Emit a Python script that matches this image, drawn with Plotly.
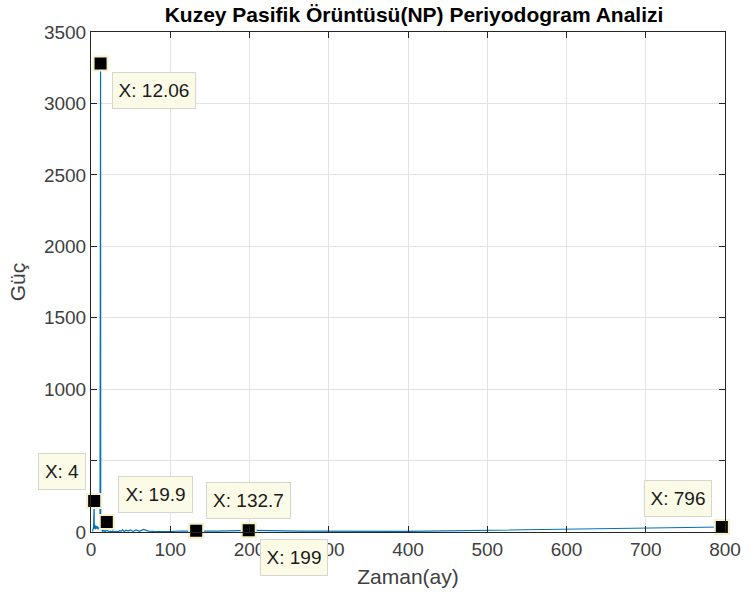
import plotly.graph_objects as go

# Periodogram of the North Pacific (NP) index: period (months) vs power
periods = [796, 398, 265.3, 199, 159.2, 132.7, 113.7, 99.5, 88.4, 79.6,
           72.4, 66.3, 61.2, 56.9, 53.1, 49.8, 46.8, 44.2, 41.9, 39.8,
           37.9, 36.2, 34.6, 33.2, 31.8, 30.6, 29.5, 28.4, 27.4, 26.5,
           25.7, 24.9, 24.1, 23.4, 22.7, 22.1, 21.5, 20.9, 20.4, 19.9,
           19.4, 18.5, 17.7, 16.6, 15.9, 14.5, 13.3, 12.63, 12.44, 12.25,
           12.06, 11.88, 11.71, 11.37, 10.6, 9.95, 8.84, 7.96, 7.24, 6.63,
           6.12, 5.69, 5.31, 4.98, 4.68, 4.42, 4.19, 4.06, 4.04, 4.02,
           4.0, 3.98, 3.96, 3.79, 3.46, 3.18, 2.95, 2.65, 2.41, 2.21, 2.0]
power = [35, 4, 6, 12, 6, 8, 7, 3, 2, 4,
         6, 18, 5, 14, 4, 15, 6, 12, 3, 16,
         5, 9, 3, 6, 4, 2, 5, 3, 7, 2,
         4, 3, 6, 2, 5, 3, 8, 8, 20, 70,
         12, 5, 9, 4, 14, 6, 18, 25, 40, 90,
         3280, 60, 30, 15, 22, 35, 18, 40, 25, 30,
         45, 20, 35, 28, 50, 30, 40, 25, 60, 35,
         217, 40, 30, 25, 35, 20, 30, 15, 25, 10, 5]

# Data tips (period, power) with their labels
tip_x = [12.06, 4, 19.9, 132.7, 199, 796]
tip_y = [3280, 217, 70, 8, 12, 35]
tip_text = ["X: 12.06", "X: 4", "X: 19.9", "X: 132.7", "X: 199", "X: 796"]
tip_xanchor = ["left", "right", "left", "left", "left", "right"]
tip_yanchor = ["top", "bottom", "bottom", "bottom", "top", "bottom"]
tip_xshift = [11, -8, 11, 10, 11, -10]
tip_yshift = [-9, 11, 9, 12, -9, 10]
tip_width = [82, 46, 73, 83, 66, 66]

x_ticks = [0, 100, 200, 300, 400, 500, 600, 700, 800]
y_ticks = [0, 500, 1000, 1500, 2000, 2500, 3000, 3500]

FONT = "Liberation Sans, Arial"

fig = go.Figure()
fig.add_trace(go.Scatter(x=periods, y=power, mode="lines",
                         line=dict(color="#0072BD", width=1.2),
                         hoverinfo="skip", showlegend=False))
fig.add_trace(go.Scatter(x=tip_x, y=tip_y, mode="markers",
                         marker=dict(symbol="square", size=14, color="black",
                                     line=dict(color="#F5F0C8", width=2)),
                         showlegend=False, cliponaxis=False))

for x, y, t, xa, ya, xs, ys, w in zip(tip_x, tip_y, tip_text, tip_xanchor,
                                      tip_yanchor, tip_xshift, tip_yshift, tip_width):
    fig.add_annotation(x=x, y=y, text=t, showarrow=False,
                       xanchor=xa, yanchor=ya, xshift=xs, yshift=ys,
                       width=w, height=35, align="center", valign="middle",
                       bgcolor="#FCFBE8", bordercolor="#D6D6D0", borderwidth=1,
                       borderpad=0,
                       font=dict(family=FONT, size=19, color="#1a1a1a"))

axis_common = dict(showgrid=True, gridcolor="#E3E3E3", gridwidth=1,
                   showline=True, linecolor="#262626", linewidth=1,
                   mirror="allticks", ticks="inside", ticklen=6,
                   tickcolor="#262626", zeroline=False,
                   tickfont=dict(family=FONT, size=19, color="#404040"))

fig.update_layout(
    width=753, height=601,
    margin=dict(l=91, r=16, t=32, b=69),
    paper_bgcolor="white", plot_bgcolor="white",
    title=dict(text="<b>Kuzey Pasifik Örüntüsü(NP) Periyodogram Analizi</b>",
               x=(91 + 737) / 2 / 753, xanchor="center", y=1 - 15 / 601, yanchor="middle",
               font=dict(family=FONT, size=21, color="black")),
    xaxis=dict(range=[0, 800], tickvals=x_ticks,
               title=dict(text="Zaman(ay)", standoff=10,
                          font=dict(family=FONT, size=21, color="#404040")),
               **axis_common),
    yaxis=dict(range=[0, 3500], tickvals=y_ticks,
               title=dict(text="Güç", standoff=12,
                          font=dict(family=FONT, size=21, color="#404040")),
               **axis_common),
)

fig.write_html("out.html")
